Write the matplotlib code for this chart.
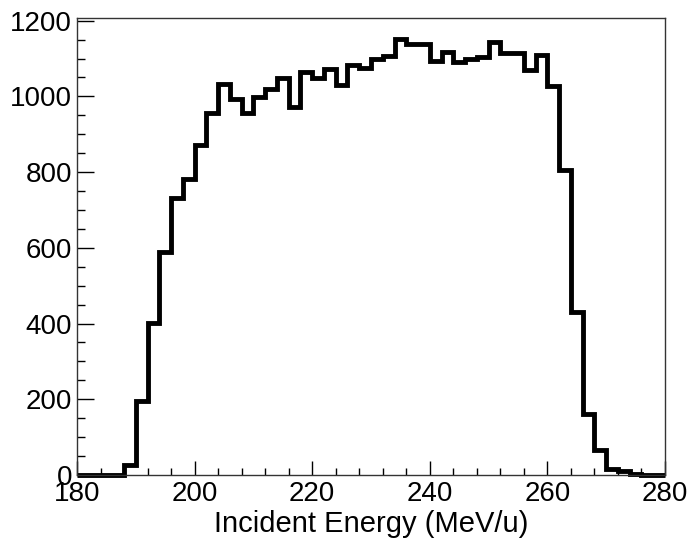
import matplotlib
matplotlib.use("Agg")
import matplotlib.pyplot as plt
import numpy as np
from matplotlib.ticker import MultipleLocator

# Histogram data: 50 bins of width 2 MeV/u from 180 to 280
bin_edges = np.arange(180, 282, 2)
counts = [0, 0, 0, 1, 27, 196, 401, 589, 732, 782,
          871, 955, 1034, 992, 957, 999, 1020, 1049, 972, 1065,
          1049, 1071, 1030, 1082, 1074, 1100, 1107, 1152, 1138, 1138,
          1093, 1118, 1090, 1099, 1103, 1144, 1114, 1115, 1070, 1108,
          1027, 805, 430, 160, 67, 17, 11, 3, 1, 0]

x_label = "Incident Energy (MeV/u)"

plt.rcParams['font.family'] = ['Liberation Sans', 'DejaVu Sans']

fig = plt.figure(figsize=(6.92, 5.43), dpi=100)
ax = fig.add_axes([77/692, 1 - 475/543, (665-77)/692, (475-18)/543])

ax.stairs(counts, bin_edges, color='black', linewidth=3.5, baseline=None, clip_on=False)

ax.set_xlim(180, 280)
ax.set_ylim(0, 1207)
ax.xaxis.set_major_locator(MultipleLocator(20))
ax.xaxis.set_minor_locator(MultipleLocator(4))
ax.yaxis.set_major_locator(MultipleLocator(200))
ax.yaxis.set_minor_locator(MultipleLocator(50))

ax.tick_params(which='both', direction='in', top=False, right=False, labelsize=20, color='black')
ax.tick_params(axis='x', which='major', length=10, width=1, pad=4.5)
ax.tick_params(axis='x', which='minor', length=5, width=1)
ax.tick_params(axis='y', which='major', length=12, width=1, pad=3.5)
ax.tick_params(axis='y', which='minor', length=6, width=1)

for s in ax.spines.values():
    s.set_linewidth(1)
    s.set_color('#333333')

ax.set_xlabel(x_label, fontsize=21, labelpad=2)

fig.savefig("out.png", dpi=100)
